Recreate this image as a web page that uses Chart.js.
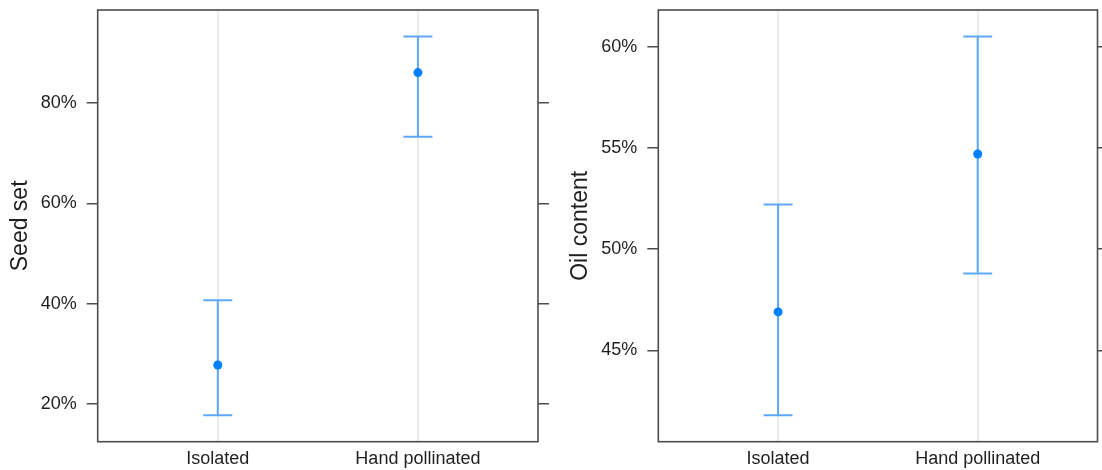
<!DOCTYPE html>
<html>
<head>
<meta charset="utf-8">
<script src="https://cdn.jsdelivr.net/npm/chart.js@4/dist/chart.umd.min.js"></script>
<style>
  html, body { margin: 0; padding: 0; background: #ffffff; }
  #wrap { position: relative; width: 1102px; height: 470px; overflow: hidden; }
  #wrap canvas { position: absolute; top: 0; }
</style>
</head>
<body>
<div id="wrap">
  <canvas id="seedChart" width="551" height="470" style="left:0px"></canvas>
  <canvas id="oilChart" width="551" height="470" style="left:551px"></canvas>
</div>
<script>
// Treatment groups shared by both panels
const categories = ['Isolated', 'Hand pollinated'];

// Seed set (%): estimate with lower / upper interval bounds
const seedSet   = [27.8, 86.1];
const seedLower = [17.8, 73.3];
const seedUpper = [40.7, 93.3];
const seedTicks = [20, 40, 60, 80];

// Oil content (%): estimate with lower / upper interval bounds
const oilContent = [46.9, 54.7];
const oilLower   = [41.8, 48.8];
const oilUpper   = [52.2, 60.5];
const oilTicks   = [45, 50, 55, 60];

const FONT = '"Liberation Sans", Arial, Helvetica, sans-serif';
const TEXT = '#1f1f1f';
const FRAME = '#4d4d4d';
const BAR_BLUE = '#5ea8fb';
const DOT_BLUE = '#0080ff';
const CAP_HALF = 0.0725; // half width of interval caps, in category units

// Box around the plotting region
const framePlugin = {
  id: 'frame',
  afterDraw(chart) {
    const { ctx, chartArea: a } = chart;
    ctx.save();
    ctx.strokeStyle = FRAME;
    ctx.lineWidth = 1.6;
    ctx.strokeRect(a.left, a.top, a.right - a.left, a.bottom - a.top);
    ctx.restore();
  }
};

function segment(points) {
  return {
    data: points,
    showLine: true,
    borderColor: BAR_BLUE,
    borderWidth: 2,
    pointRadius: 0,
    pointHoverRadius: 0,
    order: 1
  };
}

// Vertical interval, two caps and the estimate dot per group
function intervalDatasets(values, lower, upper) {
  const sets = [];
  values.forEach((v, i) => {
    const x = i + 1;
    sets.push(segment([{ x, y: lower[i] }, { x, y: upper[i] }]));
    sets.push(segment([{ x: x - CAP_HALF, y: upper[i] }, { x: x + CAP_HALF, y: upper[i] }]));
    sets.push(segment([{ x: x - CAP_HALF, y: lower[i] }, { x: x + CAP_HALF, y: lower[i] }]));
  });
  sets.push({
    data: values.map((v, i) => ({ x: i + 1, y: v })),
    showLine: false,
    pointRadius: 4.5,
    pointHoverRadius: 4.5,
    pointBackgroundColor: DOT_BLUE,
    pointBorderWidth: 0,
    order: 0
  });
  return sets;
}

function makePanel(id, title, values, lower, upper, ticks, leftW, rightW, titlePad) {
  const lo = Math.min(...lower);
  const hi = Math.max(...upper);
  const pad = (hi - lo) * 0.07;
  const yMin = lo - pad;
  const yMax = hi + pad;
  const tickFont = { family: FONT, size: 18 };
  const setTicks = s => { s.ticks = ticks.map(v => ({ value: v })); };

  return new Chart(document.getElementById(id), {
    type: 'scatter',
    data: { datasets: intervalDatasets(values, lower, upper) },
    options: {
      responsive: false,
      animation: false,
      devicePixelRatio: 1,
      events: [],
      layout: { padding: { top: 10, left: 0, right: 0, bottom: 0 } },
      plugins: { legend: { display: false }, tooltip: { enabled: false } },
      scales: {
        x: {
          type: 'linear',
          position: 'bottom',
          min: 0.4,
          max: 2.6,
          afterBuildTicks: s => { s.ticks = categories.map((c, i) => ({ value: i + 1 })); },
          afterFit: s => { s.height = 28.3; s.paddingLeft = 0; s.paddingRight = 0; },
          ticks: {
            callback: v => categories[v - 1],
            font: tickFont,
            color: TEXT,
            padding: 7,
            maxRotation: 0,
            autoSkip: false
          },
          grid: { color: '#ebebeb', lineWidth: 2, drawTicks: false },
          border: { display: false }
        },
        y: {
          type: 'linear',
          position: 'left',
          min: yMin,
          max: yMax,
          afterBuildTicks: setTicks,
          afterFit: s => { s.width = leftW; s.paddingTop = 0; s.paddingBottom = 0; },
          ticks: { callback: v => v + '%', font: tickFont, color: TEXT, padding: 10 },
          grid: { drawOnChartArea: false, drawTicks: true, tickLength: 11, color: FRAME, lineWidth: 1.5 },
          border: { display: false },
          title: {
            display: true,
            text: title,
            font: { family: FONT, size: 23 },
            color: TEXT,
            padding: { top: titlePad, bottom: 0 }
          }
        },
        y2: {
          type: 'linear',
          position: 'right',
          min: yMin,
          max: yMax,
          afterBuildTicks: setTicks,
          afterFit: s => { s.width = rightW; s.paddingTop = 0; s.paddingBottom = 0; },
          ticks: { display: false },
          grid: { drawOnChartArea: false, drawTicks: true, tickLength: 11, color: FRAME, lineWidth: 1.5 },
          border: { display: false }
        }
      }
    },
    plugins: [framePlugin]
  });
}

makePanel('seedChart', 'Seed set', seedSet, seedLower, seedUpper, seedTicks, 97.7, 13, 6.5);
makePanel('oilChart', 'Oil content', oilContent, oilLower, oilUpper, oilTicks, 107.3, 3.7, 15.5);
</script>
</body>
</html>
